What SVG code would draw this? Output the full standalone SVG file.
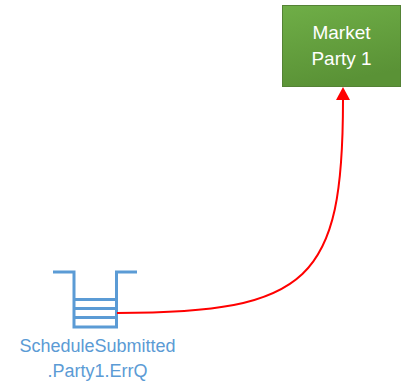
<svg xmlns="http://www.w3.org/2000/svg" width="404" height="386" viewBox="0 0 404 386">
<style>
.lbl{font-family:"Liberation Sans",Arial,sans-serif;font-size:18px;fill:#5B9BD5;text-anchor:middle}
.boxt{font-family:"Liberation Sans",Arial,sans-serif;font-size:19px;fill:#FFFFFF;text-anchor:middle}
.q{fill:none;stroke:#5B9BD5;stroke-width:3}
.conn{fill:none;stroke:#FF0000;stroke-width:2}
</style>
<defs>
<linearGradient id="g" x1="0" y1="0" x2="0.3" y2="1">
<stop offset="0" stop-color="#6FAE47"/>
<stop offset="1" stop-color="#5A9236"/>
</linearGradient>
<marker id="ah" markerWidth="13" markerHeight="14" refX="0" refY="7" orient="auto" markerUnits="userSpaceOnUse" viewBox="0 0 13 14">
<path d="M0,0 L13,7 L0,14 Z" fill="#FF0000"/>
</marker>
</defs>
<g id="market-party-1">
<rect x="282.5" y="5.5" width="118" height="81" fill="url(#g)" stroke="#548235" stroke-width="1"/>
<text class="boxt" x="341.5" y="39">Market</text>
<text class="boxt" x="341.5" y="65">Party 1</text>
</g>
<g id="errq">
<path class="q" d="M53,272 H74 V327 H116.5 V272 H137"/>
<path class="q" d="M74,299.5 H116.5 M74,308.5 H116.5 M74,317.5 H116.5"/>
<text class="lbl" x="97.5" y="351.5">ScheduleSubmitted</text>
<text class="lbl" x="97.5" y="376.5">.Party1.ErrQ</text>
</g>
<g id="connectors">
<path class="conn" d="M117,313 C310,313 343,280 343,100" marker-end="url(#ah)"/>
</g>
</svg>
